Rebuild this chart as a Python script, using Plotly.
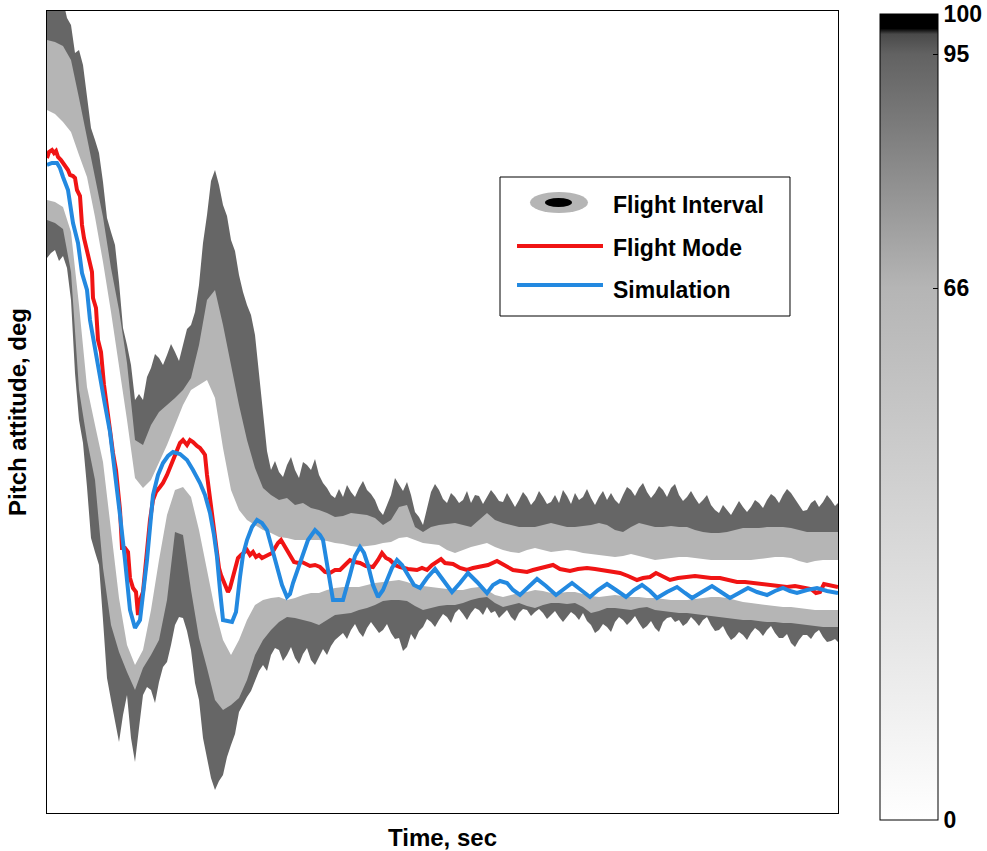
import plotly.graph_objects as go

# ---------------- data (time in samples, pitch in deg-like units) ----------------
band_time = list(range(100))                 # inner band edges sampled every step
outer_time = [i * 0.5 for i in range(199)]   # outer (95%) edges sampled every half step

upper95 = [81.3,81.3, 81.3,81.3, 81.3,79.5, 78.8,76.0, 76.3,74.8,
           71.8,68.5, 67.3,66.0, 63.1,59.5, 58.1,56.8, 53.1,48.5,
           46.8,44.8, 41.3,41.9, 41.3,43.6, 44.5,45.9, 45.5,44.8,
           45.8,46.9, 46.1,45.2, 46.8,48.4, 48.8,50.1, 52.8,57.0,
           59.8,63.2, 64.3,62.8, 60.8,59.7, 57.3,56.2, 53.8,52.1,
           50.8,49.8, 47.8,44.0, 40.3,36.2, 34.3,35.2, 34.1,33.6,
           34.8,35.6, 34.3,33.5, 35.1,34.8, 34.3,35.4, 33.8,33.0,
           32.5,31.8, 31.5,32.4, 31.6,32.8, 32.1,31.6, 32.5,33.2,
           32.3,31.9, 31.3,30.3, 29.8,30.9, 31.8,33.5, 32.8,32.2,
           33.1,31.8, 30.1,29.6, 28.8,30.5, 32.1,32.9, 32.3,31.4,
           31.0,32.0, 31.6,31.0, 31.3,32.2, 31.0,31.8, 31.7,30.9,
           31.6,32.3, 31.8,31.2, 31.1,32.0, 31.3,30.6, 31.3,32.1,
           31.6,30.8, 31.3,32.2, 31.6,30.9, 31.1,31.8, 31.0,32.3,
           31.7,30.9, 32.0,31.3, 31.6,32.4, 31.5,30.8, 31.6,32.2,
           31.3,32.0, 31.3,30.9, 31.8,32.6, 32.3,31.7, 32.5,33.0,
           32.1,31.5, 32.0,32.7, 32.3,31.6, 32.5,32.9, 31.8,31.2,
           31.6,32.2, 31.5,30.9, 31.3,31.8, 30.8,30.3, 30.0,30.8,
           30.3,29.8, 30.5,31.2, 30.6,30.1, 30.6,31.3, 31.0,30.5,
           31.3,31.9, 31.6,31.0, 31.8,32.4, 32.0,31.4, 30.8,30.2,
           30.3,31.0, 31.3,30.6, 31.1,31.8, 31.3,30.7, 31.1]

upper66 = [77.3,77.1,76.7,75.3,71.5,67.5,63.8,59.6,54.5,50.3,
           45.0,37.3,36.8,38.8,40.1,40.8,41.5,42.3,43.5,46.8,
           51.3,52.3,48.8,44.8,40.8,37.3,34.5,32.5,31.8,31.3,
           31.5,30.8,31.0,30.5,30.3,30.0,29.6,29.7,30.0,29.9,
           29.8,29.5,28.8,29.3,30.6,30.8,28.6,28.1,28.6,28.8,
           28.9,29.0,28.8,28.6,29.3,30.0,29.3,29.0,28.8,28.6,
           28.6,28.6,28.8,29.0,28.8,28.6,28.6,28.7,28.8,29.0,
           28.8,28.3,28.1,28.6,29.0,28.8,28.6,28.6,28.7,28.6,
           28.6,28.3,28.1,28.0,28.0,28.1,28.3,28.5,28.5,28.5,
           28.6,28.6,28.6,28.5,28.3,28.1,28.1,28.1,28.1,28.1]

upper0 = [70.3,69.9,69.1,68.1,65.8,63.6,59.6,55.1,50.1,44.8,
          39.3,33.5,32.5,33.3,35.1,36.8,38.8,40.8,42.3,42.8,
          43.3,41.5,36.5,32.3,30.3,29.3,28.8,28.3,28.0,27.6,
          27.5,27.3,27.3,27.3,27.3,27.2,27.0,26.9,26.7,26.6,
          26.7,26.8,27.0,27.1,27.5,27.6,27.3,27.0,26.9,26.8,
          26.3,26.0,26.3,26.6,26.8,27.0,26.6,26.3,26.1,26.0,
          26.3,26.5,26.3,26.1,26.2,26.3,26.2,26.0,25.9,25.8,
          25.7,25.6,25.7,25.9,25.7,25.5,25.3,25.4,25.5,25.6,
          25.6,25.5,25.4,25.3,25.3,25.3,25.3,25.3,25.3,25.4,
          25.5,25.6,25.6,25.5,25.2,25.0,25.2,25.3,25.3,25.3]

lower0 = [61.3,61.1,60.6,58.1,50.8,42.6,38.8,35.1,28.3,21.5,
          16.8,14.8,16.3,20.3,25.3,29.8,32.3,32.6,31.6,28.3,
          24.3,20.3,17.3,15.8,17.3,19.3,20.8,21.3,21.5,21.6,
          21.3,21.5,21.8,22.0,22.0,22.3,22.5,22.6,22.6,22.6,
          22.8,23.0,23.1,23.2,23.3,23.1,22.8,22.7,22.6,22.5,
          22.4,22.3,22.3,22.5,22.6,22.3,21.8,21.6,21.8,22.0,
          22.1,22.3,22.2,22.0,22.0,22.1,22.1,21.9,21.7,21.6,
          21.7,21.8,21.7,21.6,21.6,21.5,21.5,21.4,21.3,21.3,
          21.3,21.4,21.5,21.6,21.6,21.5,21.3,21.1,21.0,20.9,
          20.8,20.7,20.6,20.6,20.5,20.4,20.3,20.3,20.3,20.3]

lower66 = [59.3,59.0,58.4,54.1,42.3,37.3,33.3,24.5,18.8,16.1,
           14.1,12.3,14.5,15.8,17.3,21.3,28.1,27.8,22.3,17.5,
           14.5,11.3,10.3,10.8,11.5,13.3,15.8,17.3,18.3,19.1,
           19.6,19.5,19.3,19.1,18.8,19.3,19.8,19.9,20.0,20.3,
           20.5,20.8,21.2,21.3,21.3,21.2,20.7,20.3,20.5,20.7,
           20.8,20.8,21.0,21.3,21.5,21.6,21.0,20.6,20.8,21.0,
           20.7,20.5,20.8,21.0,21.0,20.9,21.0,20.6,20.0,20.2,
           20.5,20.5,20.4,20.3,20.5,20.6,20.3,20.2,20.1,20.0,
           20.0,19.9,19.8,19.7,19.6,19.5,19.4,19.3,19.3,19.2,
           19.1,19.1,19.0,19.0,18.9,18.8,18.7,18.6,18.6,18.6]

lower95 = [55.5,56.0, 56.3,55.2, 55.7,54.5, 51.3,44.0, 39.3,37.0,
           32.6,27.5, 26.1,24.8, 19.3,13.5, 11.3,9.0, 7.1,9.8,
           11.8,7.5, 5.1,8.5, 11.8,12.6, 12.3,11.0, 13.1,14.6,
           15.1,16.8, 18.8,19.6, 19.5,18.2, 16.3,13.0, 11.3,7.5,
           5.5,3.5, 2.3,3.2, 3.8,5.6, 6.8,7.9, 10.1,10.9,
           11.6,12.2, 13.3,14.2, 14.8,14.2, 15.8,16.5, 16.3,15.2,
           15.8,16.6, 15.5,14.9, 15.9,16.5, 15.3,14.8, 15.6,16.4,
           15.8,16.7, 17.3,17.7, 18.0,17.4, 18.3,18.9, 18.1,17.6,
           18.5,19.1, 18.6,18.0, 18.3,18.9, 18.0,17.4, 17.5,16.2,
           16.6,17.9, 17.3,18.2, 18.6,19.4, 19.1,18.6, 19.3,19.9,
           19.6,19.0, 20.0,20.4, 19.9,19.3, 20.0,20.5, 20.3,19.8,
           20.6,20.0, 20.2,19.5, 19.9,20.3, 19.6,19.2, 20.0,20.4,
           20.3,19.7, 20.1,20.4, 20.0,19.4, 19.8,20.2, 19.6,19.1,
           19.6,20.1, 19.8,19.3, 20.0,19.2, 18.8,18.0, 18.3,18.9,
           18.6,18.1, 19.1,19.6, 19.3,18.8, 19.2,19.7, 19.0,18.4,
           18.7,19.2, 18.5,18.1, 19.1,19.5, 19.6,19.1, 19.3,18.7,
           19.0,19.6, 19.2,18.7, 19.3,19.6, 18.8,18.2, 18.3,18.7,
           17.9,17.3, 17.6,18.1, 17.8,17.3, 18.0,18.5, 18.2,17.7,
           18.3,18.7, 18.0,17.5, 17.5,17.9, 17.0,16.6, 17.3,17.8,
           17.8,17.4, 18.0,18.3, 17.6,17.1, 17.2,17.4, 17.0]

mode_time = [0,0.25,0.625,0.875,1.125,1.375,1.75,2.25,2.625,2.875,3.25,3.5,3.75,4.125,4.375,4.625,5.0,5.25,5.625,5.75,
             6.125,6.375,6.75,7.125,7.5,7.875,8.25,8.625,8.875,9.125,9.375,9.75,10.125,10.375,10.75,11.125,11.375,11.625,12.0,12.375,
             12.625,12.875,13.25,13.625,14.125,14.5,15.0,15.375,15.75,16.25,16.625,17.0,17.5,17.875,18.25,18.75,19.125,19.5,19.75,20.0,
             20.25,20.5,20.75,21.0,21.25,21.5,21.75,22.0,22.25,22.625,22.875,23.125,23.375,23.625,23.875,24.25,24.625,25.0,25.375,25.75,
             26.125,26.5,26.875,27.25,27.625,28.125,28.5,28.875,29.25,29.625,30.0,30.375,30.875,31.375,31.875,32.375,32.875,33.5,34.125,34.75,
             35.375,36.0,36.625,37.25,37.875,38.5,39.125,39.875,40.75,41.375,41.875,42.375,42.875,43.5,44.125,45.125,46.25,46.875,47.5,48.125,
             48.75,49.25,49.75,50.75,51.625,52.5,53.25,54.125,55.125,56.25,57.25,58.25,59.125,60.0,60.75,61.625,62.5,63.25,64.125,65.375,
             66.375,67.5,68.5,69.5,70.5,71.625,72.625,73.75,74.5,75.375,76.125,76.875,77.875,78.875,80.0,81.0,82.0,83.0,84.125,85.125,
             86.25,87.25,88.25,89.25,90.375,91.375,92.5,93.5,94.5,95.5,96.125,96.625,97.125,97.625,98.25,98.875]
mode_pitch = [65.5,66.1,66.3,66.0,66.2,65.6,65.3,64.8,64.3,63.8,63.7,63.5,62.3,61.7,58.8,57.5,56.3,55.1,54.1,51.5,
              50.5,47.3,46.1,42.8,40.8,38.3,36.0,34.3,32.3,30.3,26.5,26.5,26.1,23.5,22.5,22.1,19.8,21.3,22.1,25.3,
              27.3,29.3,31.3,32.1,32.6,33.0,33.8,34.5,35.3,36.3,37.0,37.3,36.8,37.3,37.1,36.7,36.5,36.1,35.8,33.8,
              32.3,30.8,29.3,27.3,25.8,24.5,23.8,23.3,22.8,22.1,22.5,23.3,24.3,25.1,25.5,25.8,26.1,26.3,25.8,26.1,
              25.6,25.8,25.5,25.7,25.8,26.0,26.5,27.0,27.3,26.8,26.3,25.8,25.1,25.0,25.1,24.9,24.7,24.8,24.6,24.1,
              24.0,24.3,24.3,24.8,25.3,25.1,25.0,24.7,24.6,25.3,26.0,25.5,25.3,24.8,24.6,24.4,24.3,24.5,24.3,24.8,
              25.2,25.4,25.0,24.9,24.5,24.3,24.5,24.6,24.8,25.2,24.7,24.3,24.2,24.1,24.3,24.5,24.7,24.8,24.4,24.2,
              24.4,24.5,24.4,24.3,24.1,24.0,23.7,23.3,23.5,23.6,24.0,23.7,23.3,23.5,23.6,23.7,23.6,23.5,23.5,23.3,
              23.1,23.1,23.0,22.9,22.8,22.7,22.6,22.7,22.6,22.4,22.0,22.1,22.9,22.8,22.7,22.6]

sim_time = [0,0.625,1.25,1.625,2.0,2.625,3.25,3.875,4.375,5.0,5.375,6.0,6.625,7.25,7.875,8.5,9.125,9.75,10.375,11.0,
            11.625,12.5,13.25,13.875,14.5,15.125,15.75,16.625,17.5,18.25,19.125,19.75,20.375,20.875,21.25,21.625,22.0,23.125,23.625,24.125,
            24.5,25.0,25.625,26.25,26.875,27.5,28.125,28.75,29.375,30.0,30.375,30.75,31.375,32.0,32.625,33.5,34.125,34.5,35.0,35.5,
            35.75,37.0,37.375,37.875,38.5,39.125,39.625,40.125,40.75,41.375,42.0,42.5,43.125,43.75,44.375,45.125,45.875,46.625,47.5,48.5,
            49.5,50.625,51.625,52.625,53.75,55.0,55.75,56.625,57.5,58.25,59.125,60.125,61.25,62.375,63.625,64.625,65.625,66.75,67.875,68.875,
            70.0,71.125,72.375,73.375,74.375,75.375,76.25,77.5,78.75,79.75,80.625,81.875,83.125,84.25,85.375,86.5,87.625,88.75,90.0,91.0,
            92.0,92.875,93.75,95.0,96.25,97.5,98.875]
sim_pitch = [64.8,65.0,65.0,64.5,63.6,62.3,59.0,57.0,54.0,52.3,49.3,46.3,43.5,40.8,38.1,34.3,29.8,25.3,20.3,18.5,
             19.3,25.3,31.8,33.8,35.0,35.7,36.1,35.9,35.3,34.3,33.0,31.8,30.0,27.8,25.6,22.3,19.3,19.1,20.1,23.6,
             25.8,27.3,28.6,29.3,29.0,28.3,26.5,24.6,22.8,21.6,21.9,23.0,24.5,25.8,27.3,28.3,27.8,27.3,24.8,22.1,
             21.3,21.3,22.3,23.8,25.7,26.6,26.0,24.8,22.8,21.6,22.3,23.3,24.5,25.3,24.8,23.8,22.8,22.5,23.5,24.4,
             23.3,22.1,23.0,24.0,23.1,22.0,22.8,23.2,23.0,22.3,21.8,22.6,23.4,22.7,21.8,22.4,23.0,22.3,21.6,22.3,
             22.9,22.3,21.6,22.3,22.8,22.2,21.5,22.1,22.6,22.0,21.5,22.1,22.7,22.1,21.5,22.0,22.5,22.1,21.8,22.2,
             22.5,22.2,22.0,22.3,22.5,22.2,22.0]

cbar_ticks = [0, 66, 95, 100]

# ---------------- styling ----------------
DARK = "#666666"
LIGHT = "#b5b5b5"
RED = "#f01414"
BLUE = "#2389e0"
FONT = "Liberation Sans, Arial, sans-serif"

fig = go.Figure()

def band_pair(tl, lower, tu, upper, color):
    fig.add_trace(go.Scatter(x=tl, y=lower, mode="lines",
                             line=dict(width=0, color=color), hoverinfo="skip",
                             showlegend=False))
    fig.add_trace(go.Scatter(x=tu, y=upper, mode="lines", fill="tonexty",
                             fillcolor=color, line=dict(width=0, color=color),
                             hoverinfo="skip", showlegend=False))

band_pair(outer_time, lower95, outer_time, upper95, DARK)
band_pair(band_time, lower66, band_time, upper66, LIGHT)
band_pair(band_time, lower0, band_time, upper0, "#ffffff")

fig.add_trace(go.Scatter(x=mode_time, y=mode_pitch, mode="lines",
                         line=dict(color=RED, width=4), name="Flight Mode",
                         showlegend=False))
fig.add_trace(go.Scatter(x=sim_time, y=sim_pitch, mode="lines",
                         line=dict(color=BLUE, width=4), name="Simulation",
                         showlegend=False))

# colour bar (percentile shading)
fig.add_trace(go.Scatter(
    x=[None], y=[None], mode="markers", showlegend=False, hoverinfo="skip",
    marker=dict(color=[0], cmin=0, cmax=100, showscale=True,
                colorscale=[[0.0, "#ffffff"], [0.66, "#b5b5b5"], [0.95, "#626262"],
                            [0.975, "#4a4a4a"], [0.982, "#000000"], [1.0, "#000000"]],
                colorbar=dict(thickness=58, thicknessmode="pixels",
                              len=806, lenmode="pixels",
                              x=1.0531, xanchor="left", y=-0.0087, yanchor="bottom",
                              xpad=0, ypad=0, outlinewidth=1, outlinecolor="black",
                              tickvals=cbar_ticks, ticktext=[str(v) for v in cbar_ticks],
                              ticks="inside", ticklen=5, tickcolor="black",
                              ticklabeloverflow="allow",
                              tickfont=dict(family=FONT, size=23, color="black", weight="bold")))))

# inner tick marks on the left edge of the colour bar
for yy in (0.6546, 0.9476):
    fig.add_shape(type="line", xref="paper", yref="paper", x0=1.0531, x1=1.0594,
                  y0=yy, y1=yy, line=dict(color="black", width=1))

# custom legend (box, samples, labels)
fig.add_shape(type="rect", xref="paper", yref="paper", x0=0.5727, x1=0.9393, y0=0.6197, y1=0.7930,
              line=dict(color="black", width=1), fillcolor="white", layer="above")
fig.add_shape(type="circle", xref="paper", yref="paper", x0=0.6106, x1=0.6839,
              y0=0.7481, y1=0.7743, line=dict(width=0), fillcolor=LIGHT, layer="above")
fig.add_shape(type="circle", xref="paper", yref="paper", x0=0.6296, x1=0.6637,
              y0=0.7556, y1=0.7668, line=dict(width=0), fillcolor="black", layer="above")
fig.add_shape(type="line", xref="paper", yref="paper", x0=0.5942, x1=0.7029,
              y0=0.7070, y1=0.7070, line=dict(color=RED, width=4), layer="above")
fig.add_shape(type="line", xref="paper", yref="paper", x0=0.5942, x1=0.7029,
              y0=0.6584, y1=0.6584, line=dict(color=BLUE, width=4), layer="above")
for txt, yy in [("Flight Interval", 0.7581), ("Flight Mode", 0.7045), ("Simulation", 0.6521)]:
    fig.add_annotation(text=txt, xref="paper", yref="paper", x=0.7131, y=yy,
                       xanchor="left", yanchor="middle", showarrow=False,
                       font=dict(family=FONT, size=23, color="black", weight="bold"))

axis_common = dict(showticklabels=False, ticks="", showgrid=False, zeroline=False,
                   showline=True, mirror=True, linecolor="black", linewidth=1)
fig.update_layout(
    width=987, height=851,
    margin=dict(l=47, r=149, t=11, b=38, autoexpand=False),
    paper_bgcolor="white", plot_bgcolor="white",
    xaxis=dict(range=[0, 98.875], title=dict(text="Time, sec", standoff=16,
               font=dict(family=FONT, size=24, color="black", weight="bold")), **axis_common),
    yaxis=dict(range=[0, 80.2], title=dict(text="Pitch attitude, deg", standoff=12,
               font=dict(family=FONT, size=24, color="black", weight="bold")), **axis_common),
)

fig.write_html("out.html", config={"displayModeBar": False},
               post_script="document.body.style.margin='0px';")
